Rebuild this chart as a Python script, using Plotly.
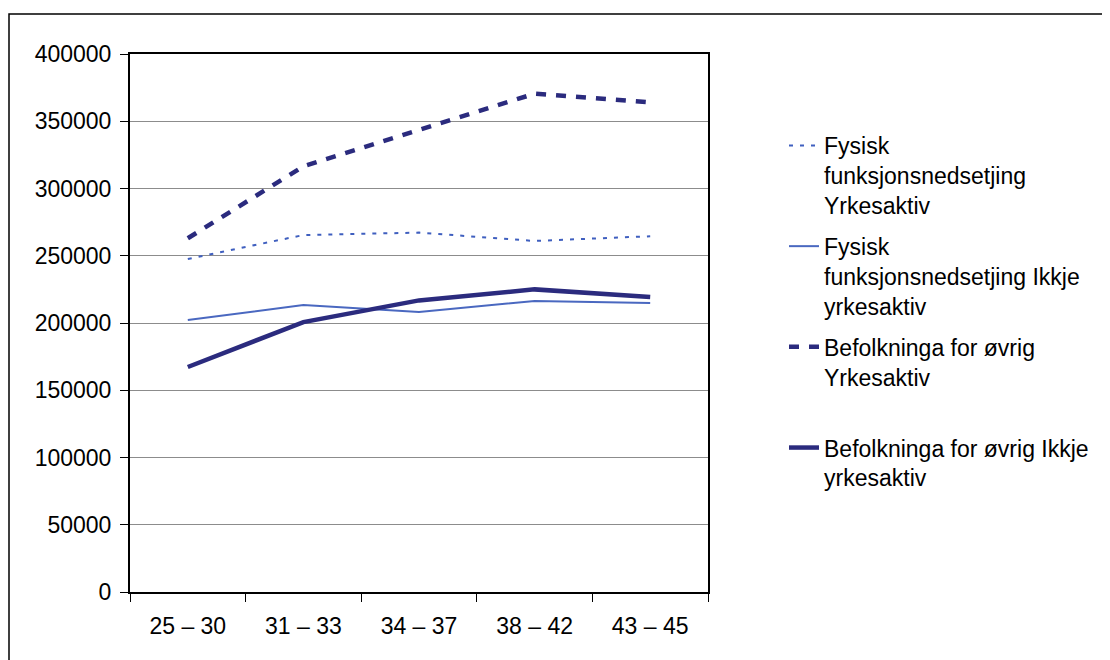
import plotly.graph_objects as go

categories = ["25 – 30", "31 – 33", "34 – 37", "38 – 42", "43 – 45"]
fysisk_yrkesaktiv = [247600, 265400, 267200, 261000, 264500]
fysisk_ikkje = [202200, 213400, 208200, 216400, 214800]
befolkning_yrkesaktiv = [263000, 316500, 343500, 370500, 364000]
befolkning_ikkje = [167300, 200700, 216800, 225000, 219300]

names = [
    "Fysisk<br>funksjonsnedsetjing<br>Yrkesaktiv",
    "Fysisk<br>funksjonsnedsetjing Ikkje<br>yrkesaktiv",
    "Befolkninga for øvrig<br>Yrkesaktiv<br> ",
    "Befolkninga for øvrig Ikkje<br>yrkesaktiv",
]
yticks = [0, 50000, 100000, 150000, 200000, 250000, 300000, 350000, 400000]

# the page body has an 8px margin, so target positions are shifted by -8
OFF = 8
W, H = 1110, 660
L, R, T, B = 130 - OFF, 708 - OFF, 54 - OFF, 592 - OFF

fig = go.Figure()
series = [
    (fysisk_yrkesaktiv, dict(color="#3F5FBF", width=2, dash="4px,7px")),
    (fysisk_ikkje, dict(color="#4A68C0", width=2)),
    (befolkning_yrkesaktiv, dict(color="#2B2B7E", width=4.5, dash="10px,10px")),
    (befolkning_ikkje, dict(color="#2B2B7E", width=4.5)),
]
for i, (vals, line) in enumerate(series):
    fig.add_trace(go.Scatter(
        x=categories, y=vals, mode="lines", name=names[i],
        line=line, legendgroup=f"g{i}",
    ))

pw = R - L
ph = B - T
def px(x):
    return (x - OFF - L) / pw
def py(y):
    return (B - (y - OFF)) / ph

fig.update_layout(
    width=W, height=H,
    margin=dict(l=L, r=W - R, t=T, b=H - B),
    paper_bgcolor="white", plot_bgcolor="white",
    font=dict(family="Liberation Sans, Arial, sans-serif", size=23, color="black"),
    showlegend=True,
    legend=dict(
        x=px(784), y=py(124), xanchor="left", yanchor="top",
        font=dict(size=23, color="black"),
        valign="top", tracegroupgap=8, traceorder="grouped",
        bgcolor="rgba(0,0,0,0)",
    ),
    xaxis=dict(
        type="category", tickson="boundaries", ticks="outside", ticklen=8,
        tickcolor="black", showline=True, linecolor="black", linewidth=2,
        mirror=True, showgrid=False, range=[-0.5, 4.5],
        tickfont=dict(size=23), ticklabelstandoff=12,
    ),
    yaxis=dict(
        range=[0, 400000], tickvals=yticks, ticktext=[str(v) for v in yticks],
        ticks="outside", ticklen=8, tickcolor="black",
        showline=True, linecolor="black", linewidth=2, mirror=True,
        showgrid=True, gridcolor="#8C8C8C", gridwidth=1, zeroline=False,
        tickfont=dict(size=23), ticklabelstandoff=4,
    ),
    shapes=[dict(
        type="rect", xref="paper", yref="paper",
        x0=px(9), x1=px(1109), y0=py(14), y1=py(680),
        line=dict(color="black", width=1.5), fillcolor="rgba(0,0,0,0)", layer="below",
    )],
)

fig.write_html("out.html")
